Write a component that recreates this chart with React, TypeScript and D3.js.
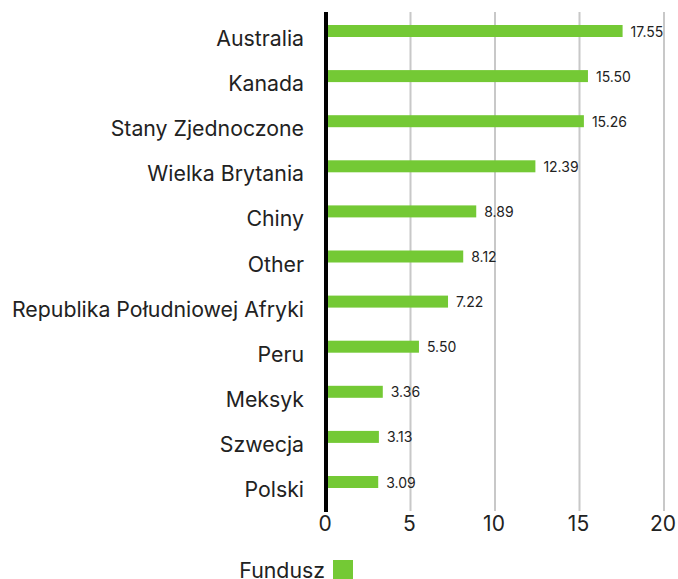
import React from "react";
import * as d3 from "d3";

const categories = ["Australia","Kanada","Stany Zjednoczone","Wielka Brytania","Chiny","Other","Republika Południowej Afryki","Peru","Meksyk","Szwecja","Polski"];
const values = [17.55,15.50,15.26,12.39,8.89,8.12,7.22,5.50,3.36,3.13,3.09];
const ticks = [0,5,10,15,20];
const seriesName = "Fundusz";

const W = 678, H = 579;
const font = "Inter, 'Noto Sans', sans-serif";
const green = "#74c935";

export default function App() {
  const x = d3.scaleLinear().domain([0,20]).range([326,664]);
  const y = d3.scaleBand<string>().domain(categories).range([8.45,504.55]).paddingInner(0.734).paddingOuter(0.367);
  return (
    <svg width={W} height={H} style={{position:"absolute",left:0,top:0}} fontFamily={font}>
      {ticks.filter(t=>t>0).map(t=>(
        <line key={t} x1={x(t)} x2={x(t)} y1={12} y2={511} stroke="#c8c8c8" strokeWidth={2}/>
      ))}
      {categories.map((c,i)=>{
        const yy = y(c)!;
        const cy = yy + y.bandwidth()/2;
        return (
          <g key={c}>
            <rect x={x(0)} y={yy} width={x(values[i])-x(0)} height={y.bandwidth()} fill={green}/>
            <text x={x(values[i])+8} y={cy} dominantBaseline="central" fontSize={14} fill="#222">{values[i].toFixed(2)}</text>
            <text x={304} y={cy+15} textAnchor="end" fontSize={21.3} fill="#222">{c}</text>
          </g>
        );
      })}
      <line x1={x(0)} x2={x(0)} y1={12} y2={512} stroke="#000" strokeWidth={4}/>
      {ticks.map(t=>(
        <text key={t} x={x(t)-1} y={531} textAnchor="middle" fontSize={21} fill="#222">{t}</text>
      ))}
      <text x={325} y={578} textAnchor="end" fontSize={21.3} fill="#222">{seriesName}</text>
      <rect x={333} y={560} width={20} height={20} fill={green}/>
    </svg>
  );
}
